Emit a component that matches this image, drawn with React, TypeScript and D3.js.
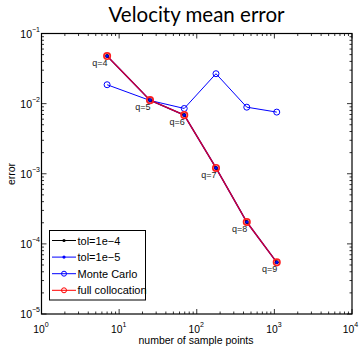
import React from "react";
import * as d3 from "d3";

// Sparse-grid sample counts (3D Clenshaw–Curtis) and levels
const samplePoints = [7, 25, 69, 177, 441, 1073];
const levels = [4, 5, 6, 7, 8, 9];

// Mean error of the velocity for each method
const tol1e4 = [0.0477, 0.0112, 0.00686, 0.00121, 0.000205, 0.0000545];
const tol1e5 = [0.0477, 0.0112, 0.00686, 0.00121, 0.000205, 0.0000545];
const monteCarlo = [0.0186, 0.0111, 0.00853, 0.0267, 0.0089, 0.00757];
const fullCollocation = [0.0477, 0.0112, 0.00686, 0.00121, 0.000205, 0.0000545];

const xDecades = [0, 1, 2, 3, 4];
const yDecades = [-5, -4, -3, -2, -1];

const legendItems = [
  { label: "tol=1e\u22124", color: "#000", marker: "dot" },
  { label: "tol=1e\u22125", color: "#0000ff", marker: "dot" },
  { label: "Monte Carlo", color: "#0000ff", marker: "circle" },
  { label: "full collocation", color: "#ff0000", marker: "circle" },
];

const W = 359;
const H = 347;
const L = 41.5;
const R = 352;
const T = 33.5;
const B = 314;

export default function App() {
  const x = d3.scaleLog().domain([1, 1e4]).range([L, R]);
  const y = d3.scaleLog().domain([1e-5, 1e-1]).range([B, T]);
  const line = d3
    .line<number>()
    .x((_, i) => x(samplePoints[i]))
    .y((d) => y(d));

  const minorX: number[] = [];
  for (let e = 0; e < 4; e++) for (let m = 2; m <= 9; m++) minorX.push(m * 10 ** e);
  const minorY: number[] = [];
  for (let e = -5; e < -1; e++) for (let m = 2; m <= 9; m++) minorY.push(m * 10 ** e);

  const font = "'Liberation Sans', Arial, sans-serif";

  return (
    <svg
      width={W}
      height={H}
      style={{ position: "absolute", left: 0, top: 0, background: "#fff" }}
      fontFamily={font}
    >
      <rect width={W} height={H} fill="#fff" />
      <text x={196.5} y={22} textAnchor="middle" fontSize={20.5} fontFamily="Lato, sans-serif" fill="#000">
        Velocity mean error
      </text>

      {/* ticks on all four sides */}
      <g stroke="#000" strokeWidth={0.8}>
        {xDecades.map((e) => (
          <g key={"xM" + e}>
            <line x1={x(10 ** e)} x2={x(10 ** e)} y1={B} y2={B - 5} />
            <line x1={x(10 ** e)} x2={x(10 ** e)} y1={T} y2={T + 5} />
          </g>
        ))}
        {minorX.map((v) => (
          <g key={"xm" + v}>
            <line x1={x(v)} x2={x(v)} y1={B} y2={B - 2.5} />
            <line x1={x(v)} x2={x(v)} y1={T} y2={T + 2.5} />
          </g>
        ))}
        {yDecades.map((e) => (
          <g key={"yM" + e}>
            <line x1={L} x2={L + 5} y1={y(10 ** e)} y2={y(10 ** e)} />
            <line x1={R} x2={R - 5} y1={y(10 ** e)} y2={y(10 ** e)} />
          </g>
        ))}
        {minorY.map((v) => (
          <g key={"ym" + v}>
            <line x1={L} x2={L + 2.5} y1={y(v)} y2={y(v)} />
            <line x1={R} x2={R - 2.5} y1={y(v)} y2={y(v)} />
          </g>
        ))}
      </g>
      <rect x={L} y={T} width={R - L} height={B - T} fill="none" stroke="#000" strokeWidth={1.2} />

      {/* tick labels */}
      {xDecades.map((e) => (
        <text
          key={"xl" + e}
          x={Math.min(x(10 ** e) - 0.5, 350.5)}
          y={333}
          textAnchor="middle"
          fontSize={10.3}
          fill="#000"
        >
          10
          <tspan dy={-6} fontSize={7}>
            {String(e)}
          </tspan>
        </text>
      ))}
      {yDecades.map((e) => (
        <text key={"yl" + e} x={40} y={y(10 ** e) + 4} textAnchor="end" fontSize={10.5} fill="#000">
          10
          <tspan dy={-6} fontSize={7}>
            {"\u2212" + String(-e)}
          </tspan>
          <tspan dy={6} fontSize={4}> </tspan>
        </text>
      ))}

      <text x={196} y={344} textAnchor="middle" fontSize={10.5} fill="#000">
        number of sample points
      </text>
      <text transform={`translate(15, ${174}) rotate(-90)`} textAnchor="middle" fontSize={10.5} fill="#000">
        error
      </text>

      {/* series lines */}
      <path d={line(tol1e4) || ""} fill="none" stroke="#000" strokeWidth={1} />
      <path d={line(tol1e5) || ""} fill="none" stroke="#0000ff" strokeWidth={1.4} />
      <path d={line(monteCarlo) || ""} fill="none" stroke="#0000ff" strokeWidth={1} />
      <path d={line(fullCollocation) || ""} fill="none" stroke="#ff0000" strokeWidth={1.4} strokeOpacity={0.8} />

      {/* markers */}
      {monteCarlo.map((v, i) => (
        <circle key={"mc" + i} cx={x(samplePoints[i])} cy={y(v)} r={3} fill="none" stroke="#0000ff" strokeWidth={1} />
      ))}
      {fullCollocation.map((v, i) => (
        <circle key={"fc" + i} cx={x(samplePoints[i])} cy={y(v)} r={3.2} fill="none" stroke="#ff2020" strokeWidth={1.7} />
      ))}
      {tol1e4.map((v, i) => (
        <circle key={"t4" + i} cx={x(samplePoints[i])} cy={y(v)} r={2} fill="#000" />
      ))}
      {tol1e5.map((v, i) => (
        <circle key={"t5" + i} cx={x(samplePoints[i])} cy={y(v)} r={1.6} fill="#0000ff" />
      ))}

      {/* level labels */}
      {levels.map((q, i) => (
        <text
          key={"q" + q}
          x={x(samplePoints[i]) + 0.5}
          y={y(fullCollocation[i]) + 10}
          textAnchor="end"
          fontSize={9}
          fill="#222"
        >
          {"q=" + q}
        </text>
      ))}

      {/* legend */}
      <rect x={49.5} y={230.5} width={96} height={69.5} fill="#fff" stroke="#000" strokeWidth={1} />
      {legendItems.map((it, i) => {
        const ly = 240.5 + i * 16.6;
        return (
          <g key={it.label}>
            <line x1={52} x2={76} y1={ly} y2={ly} stroke={it.color} strokeWidth={1} />
            {it.marker === "dot" ? (
              <circle cx={64} cy={ly} r={1.6} fill={it.color} />
            ) : (
              <circle cx={64} cy={ly} r={2.5} fill="none" stroke={it.color} strokeWidth={1} />
            )}
            <text x={77.5} y={ly + 4} fontSize={11} fill="#000">
              {it.label}
            </text>
          </g>
        );
      })}
    </svg>
  );
}
